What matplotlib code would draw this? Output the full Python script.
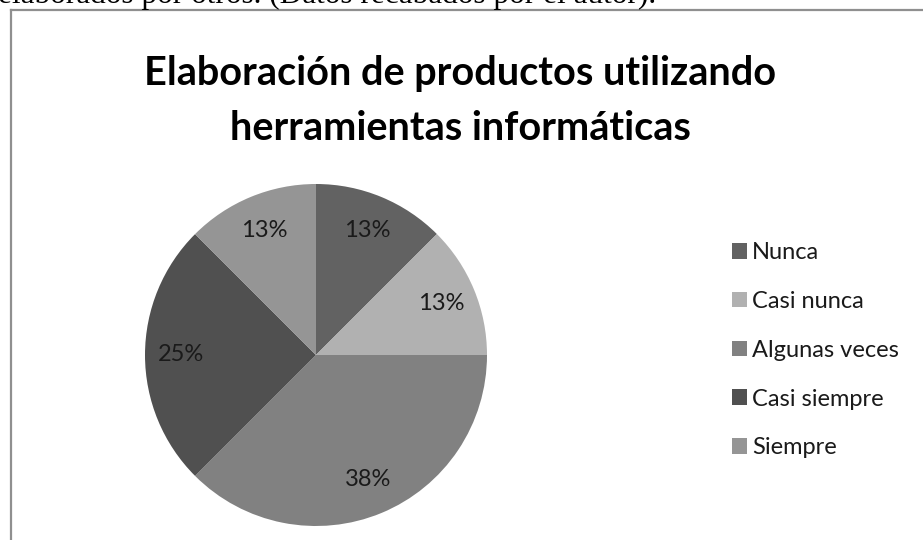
import matplotlib
matplotlib.use("Agg")
import matplotlib.pyplot as plt
from matplotlib.lines import Line2D

categories = ["Nunca", "Casi nunca", "Algunas veces", "Casi siempre", "Siempre"]
values = [1, 1, 3, 2, 1]
pct_labels = ["13%", "13%", "38%", "25%", "13%"]
colors = ["#626262", "#b1b1b1", "#818181", "#505050", "#959595"]
title_lines = ["Elaboración de productos utilizando", "herramientas informáticas"]
caption = "elaborados por otros. (Datos recabados por el autor)."

W, H = 923, 540
fig = plt.figure(figsize=(W / 100, H / 100), dpi=100)
fig.patch.set_facecolor("white")

# frame of the chart area (left and top edges visible)
fig.add_artist(Line2D([10.5 / W, 10.5 / W], [0, 1 - 9.5 / H], transform=fig.transFigure,
                      color="#8f8f8f", lw=1.6))
fig.add_artist(Line2D([10.5 / W, 1], [1 - 9.5 / H, 1 - 9.5 / H], transform=fig.transFigure,
                      color="#8f8f8f", lw=1.6))

# cut-off caption text at very top
fig.text(-2 / W, 1 - 3 / H, caption, family="Liberation Serif", fontsize=22.5,
         ha="left", va="baseline", color="black")

# title
for line, base in zip(title_lines, [85, 140]):
    fig.text(460 / W, 1 - base / H, line, family="Lato", fontweight="bold", fontsize=28.5,
             ha="center", va="baseline", color="black")

cx, cy, r = 316, 355, 171
ax = fig.add_axes([(cx - r) / W, (H - cy - r) / H, 2 * r / W, 2 * r / H])
wedges, texts, autotexts = ax.pie(values, colors=colors, startangle=90, counterclock=False,
                                  autopct="%1.0f%%", pctdistance=0.79,
                                  wedgeprops=dict(linewidth=0),
                                  textprops=dict(family="Lato", fontsize=17, color="#1a1a1a"))
for t, lab in zip(autotexts, pct_labels):
    t.set_text(lab)
ax.set_xlim(-1, 1)
ax.set_ylim(-1, 1)
ax.set_aspect("auto")

fig.legend(wedges, categories, loc="upper left", bbox_to_anchor=(732 / W, 1 - 242 / H),
           frameon=False, prop=dict(family="Lato", size=17), handlelength=0.65,
           handleheight=0.65, handletextpad=0.2, labelspacing=1.18, borderpad=0,
           borderaxespad=0, labelcolor="#1a1a1a")

fig.savefig("out.png", dpi=100)
